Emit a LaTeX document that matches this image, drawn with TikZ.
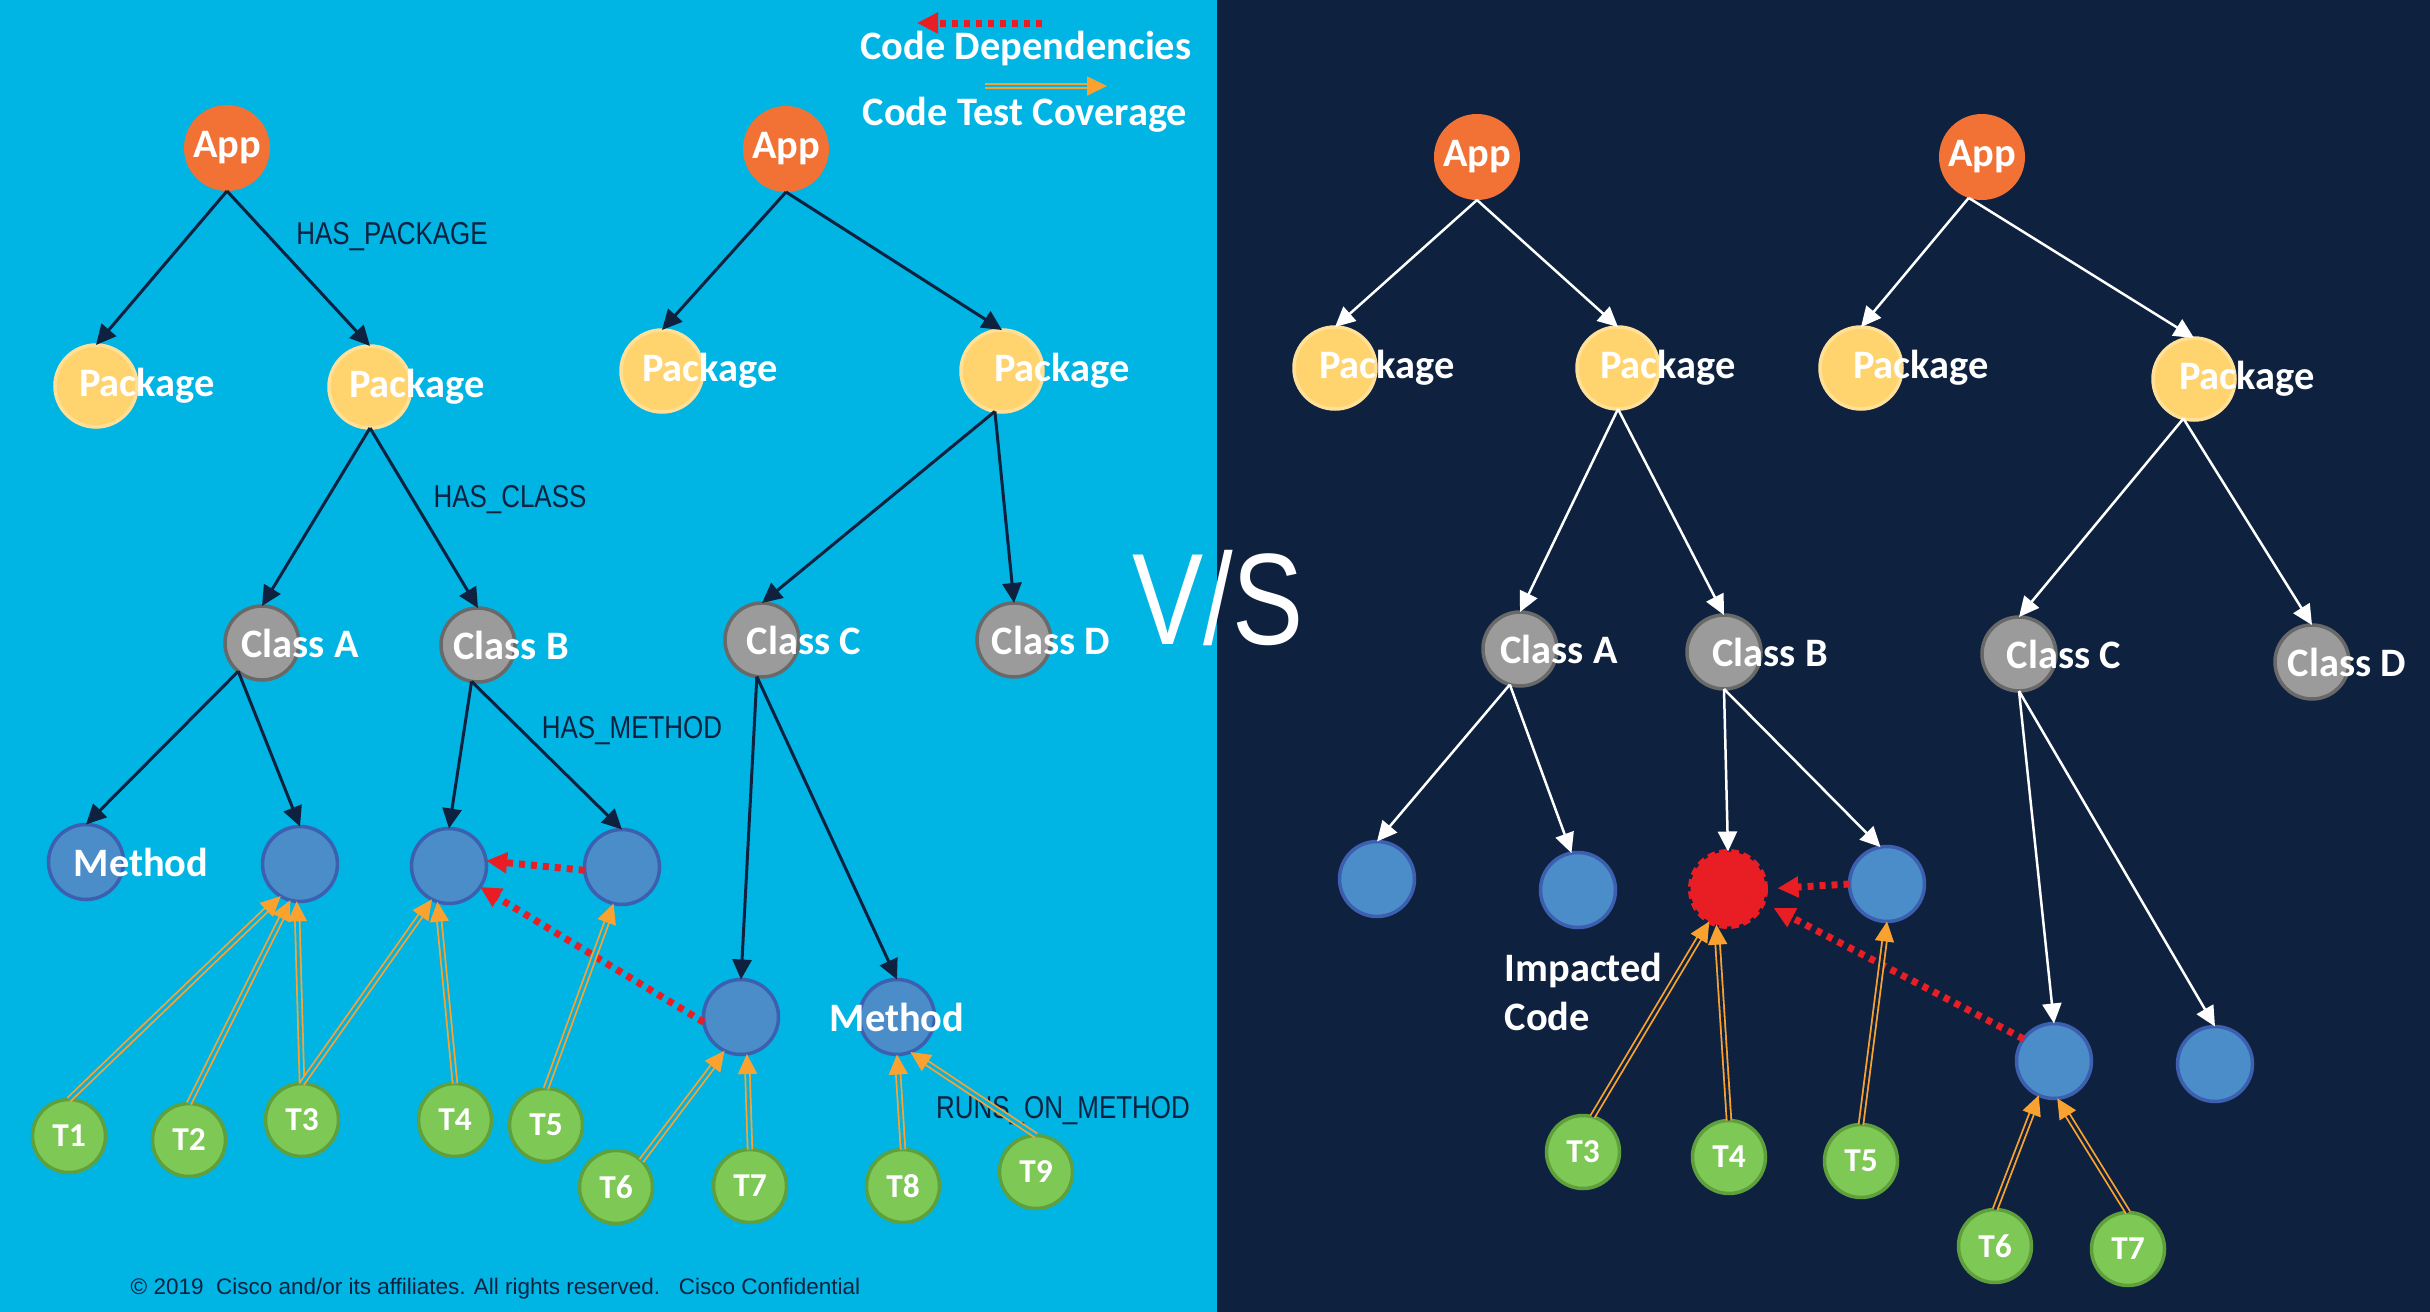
\documentclass[tikz,border=0pt]{standalone}
\usepackage{fontspec}
\setmainfont{Carlito}
\newfontfamily\relfont[FakeStretch=0.82]{Liberation Sans}
\newfontfamily\copyfont{Liberation Sans}
\usetikzlibrary{positioning, arrows.meta}
\definecolor{bgleft}{RGB}{0,180,228}
\definecolor{bgright}{RGB}{14,34,64}
\definecolor{mapp}{RGB}{242,114,54}
\definecolor{mpkg}{RGB}{255,212,110}
\definecolor{mpkgline}{RGB}{255,224,150}
\definecolor{mclass}{RGB}{155,155,155}
\definecolor{mclassline}{RGB}{105,105,105}
\definecolor{mmeth}{RGB}{74,141,201}
\definecolor{mmethline}{RGB}{60,95,175}
\definecolor{mtest}{RGB}{126,200,85}
\definecolor{mtestline}{RGB}{95,160,60}
\definecolor{mred}{RGB}{232,30,36}
\definecolor{morange}{RGB}{250,162,48}
\definecolor{mnavy}{RGB}{14,34,64}
\tikzset{
  node/.style={circle,inner sep=0,outer sep=0,line width=0.35mm,text=white,
    font=\bfseries\fontsize{11.5}{14}\selectfont},
  node app/.style={node,fill=mapp,minimum size=8.6mm},
  node pkg/.style={node,fill=mpkg,draw=mpkgline,minimum size=8.2mm},
  node class/.style={node,fill=mclass,draw=mclassline,minimum size=7.4mm},
  node method/.style={node,fill=mmeth,draw=mmethline,minimum size=7.5mm},
  node test/.style={node,fill=mtest,draw=mtestline,minimum size=7.3mm,
    font=\bfseries\fontsize{9.5}{11}\selectfont},
  node impact/.style={node,fill=mred,draw=mred,line width=0.5mm,
    dash pattern=on 0.75mm off 0.45mm,minimum size=7.5mm},
  txt/.style={text=white,font=\bfseries\fontsize{11.5}{14.2}\selectfont,inner sep=0},
  rel/.style={text=mnavy,font=\relfont\fontsize{9}{11}\selectfont,inner sep=0},
  connect arrow/.style={-{Triangle[length=2mm,width=1.9mm]},line width=0.3mm,mnavy},
  connect white/.style={-{Triangle[length=2mm,width=1.9mm]},line width=0.25mm,white},
  connect dep/.style={-{Triangle[length=2.1mm,width=2mm]},line width=0.7mm,mred,
    dash pattern=on 0.6mm off 0.6mm},
  connect cover/.style={-{Triangle[length=2mm,width=1.9mm]},draw=morange,
    line width=0.18mm,double=bgleft,double distance=0.28mm},
  connect cover dark/.style={connect cover,double=bgright}
}

\begin{document}
\begin{tikzpicture}[x=0.1mm, y=-0.1mm]
  \useasboundingbox (0,0) rectangle (2430,1312);

  % backgrounds
  \fill[bgleft] (0,0) rectangle (1217,1312);
  \fill[bgright] (1217,0) rectangle (2430,1312);

  % legend
  \coordinate (depS) at (1042,23);
  \coordinate (depE) at (917,23);
  \coordinate (covS) at (985,86);
  \coordinate (covE) at (1107,86);
  \draw[connect dep] (depS) -- (depE);
  \draw[connect cover] (covS) -- (covE);
  \node[txt,anchor=base] (legdep) at (1026,60) {Code Dependencies};
  \node[txt,anchor=base] (legcov) at (1025,125) {Code Test Coverage};

  % left, first app
  \node[node app] (a1) at (227,148) {App};
  \node[node pkg,label={[txt,xshift=5.1mm]center:Package}] (p1a) at (96,386) {};
  \node[node pkg,label={[txt,xshift=4.7mm]center:Package}] (p1b) at (370,387) {};
  \node[node class,label={[txt,xshift=3.8mm]center:Class A}] (ca) at (262,643) {};
  \node[node class,label={[txt,xshift=3.3mm]center:Class B}] (cb) at (478,645) {};
  \node[node method,label={[txt,xshift=5.5mm]center:Method}] (m1) at (86,862) {};
  \node[node method] (m2) at (300,864) {};
  \node[node method] (m3) at (449,866) {};
  \node[node method] (m4) at (622,867) {};
  \node[node test] (t1) at (69,1136) {T1};
  \node[node test] (t2) at (189,1140) {T2};
  \node[node test] (t3) at (302,1120) {T3};
  \node[node test] (t4) at (455,1120) {T4};
  \node[node test] (t5) at (546,1125) {T5};

  % left, second app
  \node[node app] (a2) at (786,149) {App};
  \node[node pkg,label={[txt,xshift=4.8mm]center:Package}] (p2a) at (662,371) {};
  \node[node pkg,label={[txt,xshift=6mm]center:Package}] (p2b) at (1002,371) {};
  \node[node class,label={[txt,xshift=4.2mm]center:Class C}] (cc) at (762,640) {};
  \node[node class,label={[txt,xshift=3.7mm]center:Class D}] (cd) at (1014,640) {};
  \node[node method] (m5) at (741,1017) {};
  \node[node method,label={[txt]center:Method}] (m6) at (897,1017) {};
  \node[node test] (t6) at (616,1187) {T6};
  \node[node test] (t7) at (750,1186) {T7};
  \node[node test] (t8) at (903,1186) {T8};
  \node[node test] (t9) at (1036,1172) {T9};

  % relation names
  \node[rel] (lpkg) at (392,237) {HAS\_PACKAGE};
  \node[rel] (lcls) at (510,500) {HAS\_CLASS};
  \node[rel] (lmet) at (632,731) {HAS\_METHOD};
  \node[rel] (lrun) at (1063,1111) {RUNS\_ON\_METHOD};

  % left arrows
  \draw[connect arrow] (a1.south) -- (p1a.north);
  \draw[connect arrow] (a1.south) -- (p1b.north);
  \draw[connect arrow] (p1b.south) -- (ca.north);
  \draw[connect arrow] (p1b.south) -- (cb.north);
  \draw[connect arrow] (ca.230) -- (m1.north);
  \draw[connect arrow] (ca.230) -- (m2.north);
  \draw[connect arrow] (cb.260) -- (m3.north);
  \draw[connect arrow] (cb.260) -- (m4.north);
  \draw[connect arrow] (a2.south) -- (p2a.north);
  \draw[connect arrow] (a2.south) -- (p2b.north);
  \draw[connect arrow] (p2b.260) -- (cc.north);
  \draw[connect arrow] (p2b.260) -- (cd.north);
  \draw[connect arrow] (cc.262) -- (m5.north);
  \draw[connect arrow] (cc.262) -- (m6.north);

  % left dependencies
  \draw[connect dep] (m4.185) -- (m3.8);
  \draw[connect dep] (m5.188) -- (m3.-34);

  % left coverage
  \draw[connect cover] (t1.north) -- (m2.239);
  \draw[connect cover] (t2.north) -- (m2.255);
  \draw[connect cover] (t3.north) -- (m2.265);
  \draw[connect cover] (t3.north) -- (m3.243);
  \draw[connect cover] (t4.north) -- (m3.252);
  \draw[connect cover] (t5.north) -- (m4.257);
  \draw[connect cover] (t6.46) -- (m5.244);
  \draw[connect cover] (t7.north) -- (m5.279);
  \draw[connect cover] (t8.north) -- (m6.south);
  \draw[connect cover] (t9.north) -- (m6.291);

  % versus
  \node[text=white,font=\relfont\fontsize{37}{40}\selectfont,inner sep=0] (vs) at (1218,598) {V/S};

  % right, first app
  \node[node app] (a3) at (1477,157) {App};
  \node[node pkg,label={[txt,xshift=5.2mm]center:Package}] (p3a) at (1335,368) {};
  \node[node pkg,label={[txt,xshift=5mm]center:Package}] (p3b) at (1618,368) {};
  \node[node class,label={[txt,xshift=3.9mm]center:Class A}] (ca3) at (1520,649) {};
  \node[node class,label={[txt,xshift=4.6mm]center:Class B}] (cb3) at (1724,652) {};
  \node[node method] (ma1) at (1377,879) {};
  \node[node method] (ma2) at (1578,890) {};
  \node[node impact] (red) at (1728,889) {};
  \node[node method] (mb2) at (1887,884) {};
  \node[node test] (t3r) at (1583,1152) {T3};
  \node[node test] (t4r) at (1729,1157) {T4};
  \node[node test] (t5r) at (1861,1161) {T5};
  \node[txt,align=left,anchor=north west] (impl) at (1504,952) {Impacted\\Code};

  % right, second app
  \node[node app] (a4) at (1982,157) {App};
  \node[node pkg,label={[txt,xshift=6mm]center:Package}] (p4a) at (1861,368) {};
  \node[node pkg,label={[txt,xshift=5.3mm]center:Package}] (p4b) at (2194,379) {};
  \node[node class,label={[txt,xshift=4.5mm]center:Class C}] (cc4) at (2019,654) {};
  \node[node class,label={[txt,xshift=3.5mm]center:Class D}] (cd4) at (2312,662) {};
  \node[node method] (mc1) at (2054,1061) {};
  \node[node method] (mc2) at (2215,1064) {};
  \node[node test] (t6r) at (1995,1246) {T6};
  \node[node test] (t7r) at (2128,1249) {T7};

  % right arrows
  \draw[connect white] (a3.south) -- (p3a.north);
  \draw[connect white] (a3.south) -- (p3b.north);
  \draw[connect white] (p3b.south) -- (ca3.north);
  \draw[connect white] (p3b.south) -- (cb3.north);
  \draw[connect white] (ca3.254) -- (ma1.north);
  \draw[connect white] (ca3.254) -- (ma2.100);
  \draw[connect white] (cb3.south) -- (red.north);
  \draw[connect white] (cb3.south) -- (mb2.100);
  \draw[connect white] (a4.252) -- (p4a.north);
  \draw[connect white] (a4.252) -- (p4b.north);
  \draw[connect white] (p4b.255) -- (cc4.north);
  \draw[connect white] (p4b.255) -- (cd4.north);
  \draw[connect white] (cc4.south) -- (mc1.north);
  \draw[connect white] (cc4.south) -- (mc2.north);

  % right dependencies
  \draw[connect dep,shorten >=1.2mm] (mb2.west) -- (red.east);
  \draw[connect dep,shorten >=1.2mm] (mc1.144) -- (red.-21);

  % right coverage
  \draw[connect cover dark] (t3r.75) -- (red.240);
  \draw[connect cover dark] (t4r.north) -- (red.252);
  \draw[connect cover dark] (t5r.north) -- (mb2.south);
  \draw[connect cover dark] (t6r.north) -- (mc1.246);
  \draw[connect cover dark] (t7r.north) -- (mc1.275);

  % footer
  \node[anchor=base west,text=mnavy,font=\copyfont\fontsize{6.4}{8}\selectfont,inner sep=0] (copy)
    at (130,1294) {© 2019\ \ Cisco and/or its affiliates. All rights reserved.\ \ \ Cisco Confidential};

\end{tikzpicture}
\end{document}
